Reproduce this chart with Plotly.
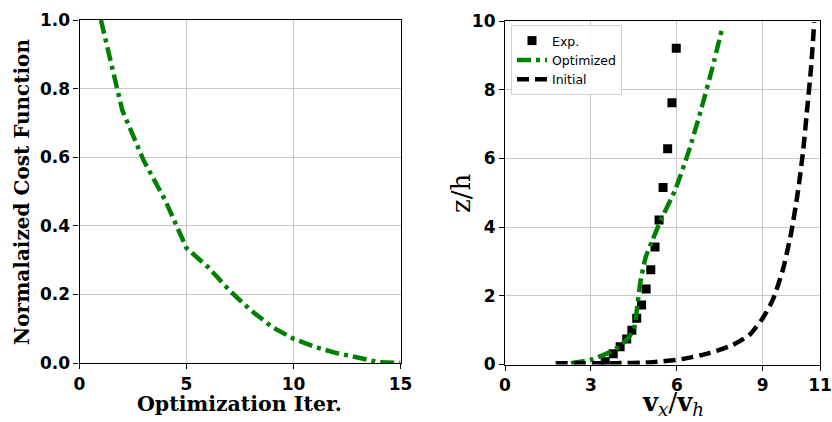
import plotly.graph_objects as go

# Left panel: normalized cost function vs optimization iteration
iters = [1, 2, 3, 4, 5, 6, 7, 8, 9, 10, 11, 12, 13, 14, 15]
cost = [1.0, 0.737, 0.59, 0.475, 0.335, 0.28, 0.212, 0.154, 0.105, 0.071, 0.047, 0.029, 0.016, 0.002, 0.0]

# Right panel: velocity profiles
exp_vx = [3.5, 3.78, 4.02, 4.25, 4.43, 4.6, 4.77, 4.93, 5.09, 5.24, 5.38, 5.52, 5.68, 5.83, 5.98]
exp_z = [0.08, 0.31, 0.52, 0.74, 1.0, 1.35, 1.73, 2.2, 2.76, 3.42, 4.21, 5.15, 6.28, 7.62, 9.21]

opt_vx = [2.3, 3.0, 3.52, 3.99, 4.34, 4.51, 4.63, 4.74, 4.92, 5.15, 5.44, 5.94, 6.43, 6.84, 7.25, 7.58]
opt_z = [0.04, 0.14, 0.31, 0.52, 0.81, 1.06, 1.78, 2.46, 3.14, 3.62, 4.2, 5.08, 6.24, 7.4, 8.66, 9.78]

init_vx = [1.77, 3.87, 5.03, 6.2, 7.13, 7.95, 8.53, 9.0, 9.35, 9.7, 9.99, 10.22, 10.4, 10.57, 10.69, 10.8]
init_z = [0.04, 0.04, 0.06, 0.16, 0.33, 0.57, 0.86, 1.35, 1.88, 2.75, 3.82, 4.98, 6.14, 7.6, 8.66, 9.97]

left_xticks = [0, 5, 10, 15]
left_yticks = [0.0, 0.2, 0.4, 0.6, 0.8, 1.0]
right_xticks = [0, 3, 6, 9, 11]
right_yticks = [0, 2, 4, 6, 8, 10]

GREEN = "rgb(0,128,0)"
DASHDOT = "14px,5px,4px,5px"

fig = go.Figure()

fig.add_trace(go.Scatter(
    x=iters, y=cost, mode="lines",
    line=dict(color=GREEN, width=4.5, dash=DASHDOT),
    xaxis="x", yaxis="y", showlegend=False,
))

fig.add_trace(go.Scatter(
    x=exp_vx, y=exp_z, mode="markers", name="Exp.",
    marker=dict(symbol="square", color="black", size=9),
    xaxis="x2", yaxis="y2",
))
fig.add_trace(go.Scatter(
    x=opt_vx, y=opt_z, mode="lines", name="Optimized",
    line=dict(color=GREEN, width=4.5, dash=DASHDOT, shape="spline", smoothing=0.6),
    xaxis="x2", yaxis="y2",
))
fig.add_trace(go.Scatter(
    x=init_vx, y=init_z, mode="lines", name="Initial",
    line=dict(color="black", width=4.5, dash="12px,6px", shape="spline", smoothing=0.6),
    xaxis="x2", yaxis="y2",
))

tickfont = dict(family="DejaVu Sans", size=17, color="black")
common = dict(
    showline=True, linecolor="black", linewidth=1.2, mirror=True,
    ticks="outside", ticklen=5, tickcolor="black", tickwidth=1.2,
    showgrid=True, gridcolor="rgb(200,200,200)", gridwidth=1,
    zeroline=False, tickfont=tickfont, automargin=False,
)

fig.update_layout(
    width=832, height=422,
    margin=dict(l=0, r=0, t=0, b=0, autoexpand=False),
    paper_bgcolor="white", plot_bgcolor="white",
    font=dict(family="DejaVu Sans", color="black"),
    xaxis=dict(domain=[79.5 / 832, 400.5 / 832], range=[0, 15], tickvals=left_xticks,
               ticktext=[f"<b>{v}</b>" for v in left_xticks], anchor="y", **common),
    yaxis=dict(domain=[1 - 363 / 422, 1 - 20 / 422], range=[0, 1], tickvals=left_yticks,
               ticktext=[f"<b>{v:.1f}</b>" for v in left_yticks], anchor="x", **common),
    xaxis2=dict(domain=[505 / 832, 820 / 832], range=[0, 11], tickvals=right_xticks,
                ticktext=[f"<b>{v}</b>" for v in right_xticks], anchor="y2", **common),
    yaxis2=dict(domain=[1 - 364.5 / 422, 1 - 21 / 422], range=[0, 10], tickvals=right_yticks,
                ticktext=[f"<b>{v}</b>" for v in right_yticks], anchor="x2", **common),
    legend=dict(
        x=511 / 832, y=1 - 25 / 422, xanchor="left", yanchor="top",
        bgcolor="rgba(255,255,255,0.85)", bordercolor="rgb(210,210,210)", borderwidth=1,
        font=dict(family="DejaVu Sans", size=12.5, color="black"),
        tracegroupgap=0, itemwidth=30,
    ),
    annotations=[
        dict(text="<b>Normalaized Cost Function</b>", x=22 / 832, y=1 - 192 / 422,
             xref="paper", yref="paper", showarrow=False, textangle=-90,
             xanchor="center", yanchor="middle",
             font=dict(family="DejaVu Serif", size=20, color="black")),
        dict(text="<b>Optimization Iter.</b>", x=240 / 832, y=1 - 404 / 422,
             xref="paper", yref="paper", showarrow=False,
             xanchor="center", yanchor="middle",
             font=dict(family="DejaVu Serif", size=20.5, color="black")),
        dict(text="z/h", x=461 / 832, y=1 - 194 / 422,
             xref="paper", yref="paper", showarrow=False, textangle=-90,
             xanchor="center", yanchor="middle",
             font=dict(family="DejaVu Serif", size=26, color="black")),
        dict(text="<b>v</b><sub><i>x</i></sub>/<b>v</b><sub><i>h</i></sub>", x=673 / 832, y=1 - 403 / 422,
             xref="paper", yref="paper", showarrow=False,
             xanchor="center", yanchor="middle",
             font=dict(family="DejaVu Serif", size=26, color="black")),
    ],
)

fig.write_html(
    "out.html",
    config={"displayModeBar": False},
    post_script="document.body.style.margin='0';document.body.style.overflow='hidden';",
)
